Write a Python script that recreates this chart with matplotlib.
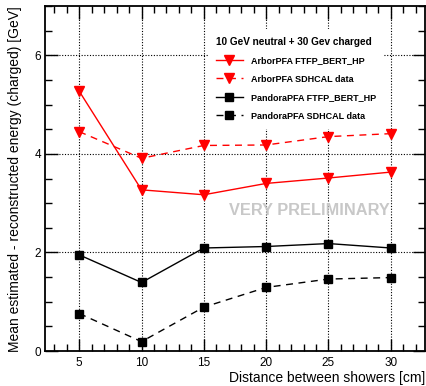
import matplotlib
matplotlib.use("Agg")
import matplotlib.pyplot as plt
from matplotlib.ticker import MultipleLocator

plt.rcParams['font.family'] = ['Liberation Sans', 'DejaVu Sans']

distance = [5, 10, 15, 20, 25, 30]
arbor_sim = [5.27, 3.27, 3.17, 3.40, 3.51, 3.63]
arbor_data = [4.45, 3.91, 4.17, 4.18, 4.35, 4.41]
pandora_sim = [1.95, 1.39, 2.09, 2.12, 2.18, 2.09]
pandora_data = [0.76, 0.19, 0.89, 1.29, 1.46, 1.49]

labels = ["ArborPFA FTFP_BERT_HP", "ArborPFA SDHCAL data",
          "PandoraPFA FTFP_BERT_HP", "PandoraPFA SDHCAL data"]

fig = plt.figure(figsize=(4.26, 3.86), dpi=100)
ax = fig.add_axes([45/426, 35/386, 380/426, 345/386])

red = '#ff0000'
ax.plot(distance, arbor_sim, color=red, lw=1.0, marker='v', ms=7.5, label=labels[0])
ax.plot(distance, arbor_data, color=red, lw=1.0, ls=(0, (5, 4)), marker='v', ms=7.5, label=labels[1])
ax.plot(distance, pandora_sim, color='black', lw=1.0, marker='s', ms=6, label=labels[2])
ax.plot(distance, pandora_data, color='black', lw=1.0, ls=(0, (5, 4)), marker='s', ms=6, label=labels[3])

ax.set_xlim(2.25, 32.75)
ax.set_ylim(0, 7)
ax.xaxis.set_major_locator(MultipleLocator(5))
ax.xaxis.set_minor_locator(MultipleLocator(1))
ax.yaxis.set_major_locator(MultipleLocator(2))
ax.yaxis.set_minor_locator(MultipleLocator(0.5))
ax.tick_params(which='both', direction='in', top=True, right=True, width=1.0, labelsize=8.5)
ax.tick_params(which='major', length=9)
ax.tick_params(which='minor', length=5)
ax.tick_params(axis='x', pad=4)
ax.tick_params(axis='y', pad=3)
ax.grid(True, which='major', color='black', ls=(0, (1, 1.5)), lw=0.8)
for s in ax.spines.values():
    s.set_linewidth(1.3)

ax.set_ylabel("Mean estimated - reconstructed energy (charged) [GeV]", fontsize=10, loc='top', labelpad=9)
ax.set_xlabel("Distance between showers [cm]", fontsize=10, loc='right', labelpad=2)

leg = ax.legend(loc='upper left', bbox_to_anchor=(158/380, 1 - 18/345), frameon=True,
                fontsize=6.5, handlelength=3.0, handletextpad=0.9, labelspacing=1.05,
                borderpad=0.9, title="10 GeV neutral + 30 Gev charged",
                title_fontproperties={'weight': 'bold', 'size': 7.2}, prop={'weight': 'bold', 'size': 6.5})
leg.get_frame().set_facecolor('white')
leg.get_frame().set_edgecolor('none')
leg.get_frame().set_alpha(1.0)
leg.get_frame().set_boxstyle('square', pad=0)
leg._legend_box.align = 'left'
leg.set_zorder(5)

ax.text(23.5, 2.86, "VERY PRELIMINARY", fontsize=11.8, weight='bold', color='#c8c8c8',
        ha='center', va='center', zorder=6)

fig.savefig("out.png", dpi=100)
